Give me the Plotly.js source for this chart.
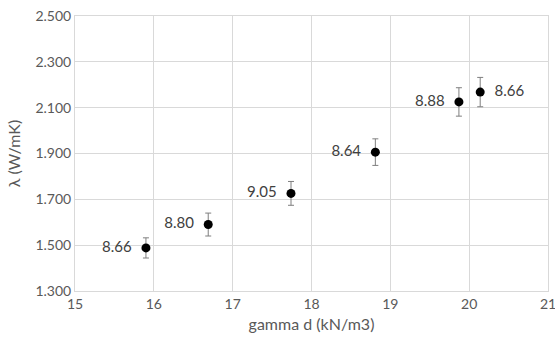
<!DOCTYPE html>
<html>
<head>
<meta charset="utf-8">
<script src="https://cdn.plot.ly/plotly-3.0.1.min.js"></script>
<style>html,body{margin:0;padding:0;background:#fff;}#chart{width:555px;height:344px;}</style>
</head>
<body>
<div id="chart"></div>
<script>
const gammaD = [15.90, 16.69, 17.74, 18.81, 19.87, 20.14];
const lambda = [1.488, 1.590, 1.726, 1.906, 2.125, 2.168];
const errLambda = [0.044, 0.050, 0.052, 0.058, 0.062, 0.064];
const labels = ['8.66', '8.80', '9.05', '8.64', '8.88', '8.66'];
const labelPos = ['middle left', 'middle left', 'middle left', 'middle left', 'middle left', 'middle right'];
const xTicks = [15, 16, 17, 18, 19, 20, 21];
const yTicks = [1.3, 1.5, 1.7, 1.9, 2.1, 2.3, 2.5];

const font = 'Lato, "Open Sans", "DejaVu Sans", sans-serif';
const pad = '\u00a0\u00a0';
const trace = {
  x: gammaD, y: lambda, type: 'scatter', mode: 'markers+text',
  text: labels, textposition: labelPos,
  texttemplate: labelPos.map(p => p === 'middle right' ? pad + '%{text}' : '%{text}' + pad),
  textfont: {family: font, size: 15, color: '#404040'},
  marker: {color: '#000000', size: 9},
  error_y: {type: 'data', array: errLambda, visible: true, color: '#7f7f7f', thickness: 1, width: 3},
  cliponaxis: false, hoverinfo: 'none'
};
const layout = {
  width: 555, height: 344,
  margin: {l: 75, r: 7, t: 16, b: 53},
  paper_bgcolor: '#ffffff', plot_bgcolor: '#ffffff',
  showlegend: false,
  font: {family: font, size: 14, color: '#595959'},
  xaxis: {
    range: [15, 21], tickvals: xTicks, ticktext: xTicks.map(String),
    showgrid: true, gridcolor: '#d9d9d9', gridwidth: 1,
    zeroline: false, showline: true, linecolor: '#d9d9d9', mirror: true,
    ticks: '', ticklabeloverflow: 'allow',
    tickfont: {family: font, size: 14, color: '#595959'},
    title: {text: 'gamma d (kN/m3)', font: {family: font, size: 16, color: '#595959'}, standoff: 8}
  },
  yaxis: {
    range: [1.3, 2.5], tickvals: yTicks, ticktext: yTicks.map(v => v.toFixed(3)),
    showgrid: true, gridcolor: '#d9d9d9', gridwidth: 1,
    zeroline: false, showline: true, linecolor: '#d9d9d9', mirror: true,
    ticks: '', tickfont: {family: font, size: 14, color: '#595959'},
    title: {text: 'λ (W/mK)', font: {family: font, size: 16, color: '#595959'}, standoff: 10}
  }
};
Plotly.newPlot('chart', [trace], layout, {staticPlot: true, displayModeBar: false});
</script>
</body>
</html>
